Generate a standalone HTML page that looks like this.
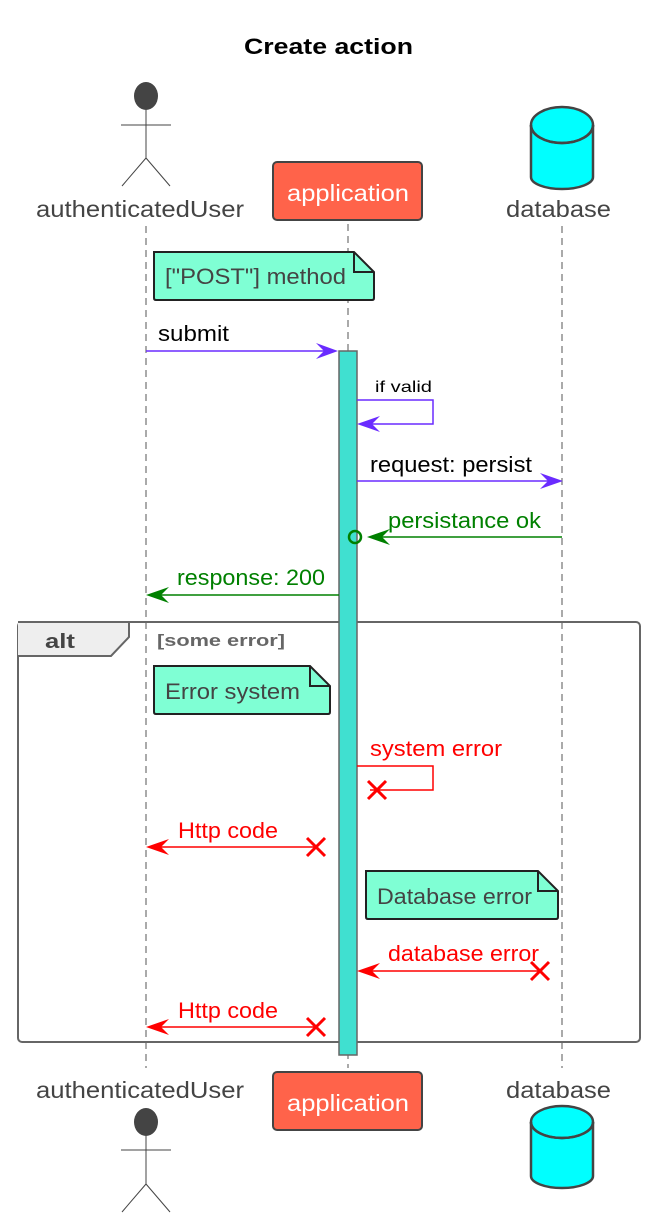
<!DOCTYPE html>
<html><head><meta charset="utf-8"><style>
html,body{margin:0;padding:0;background:#fff}
svg{display:block}
text{font-family:"Liberation Sans",sans-serif}
</style></head><body>
<svg width="650" height="1222" viewBox="0 0 650 1222" xmlns="http://www.w3.org/2000/svg">
<text x="244" y="54" font-size="22" font-weight="bold" fill="#000" textLength="169" lengthAdjust="spacingAndGlyphs">Create action</text>

<g stroke="#555" stroke-width="1" stroke-dasharray="7,5">
<line x1="146" y1="226" x2="146" y2="1068"/>
<line x1="348" y1="224" x2="348" y2="1068"/>
<line x1="562" y1="226" x2="562" y2="1068"/>
</g>

<ellipse cx="146" cy="96" rx="12" ry="14" fill="#444"/>
<g stroke="#444" stroke-width="1" fill="none">
<line x1="146" y1="110" x2="146" y2="158"/>
<line x1="121" y1="125" x2="171" y2="125"/>
<line x1="146" y1="158" x2="122" y2="186"/>
<line x1="146" y1="158" x2="170" y2="186"/>
</g>
<text x="36" y="217" font-size="23" fill="#444" textLength="208" lengthAdjust="spacingAndGlyphs">authenticatedUser</text>
<rect x="273" y="162" width="149" height="58" rx="4" fill="#FF634A" stroke="#444" stroke-width="2"/>
<text x="287" y="201" font-size="23" fill="#fff" textLength="122" lengthAdjust="spacingAndGlyphs">application</text>
<path d="M531,125 L531,177 A31,12 0 0 0 593,177 L593,125" fill="#0ff" stroke="#444" stroke-width="2.5"/>
<ellipse cx="562" cy="125" rx="31" ry="18" fill="#0ff" stroke="#444" stroke-width="2.5"/>
<path d="M531,125 A31,18 0 0 0 593,125" fill="none" stroke="#444" stroke-width="2.5"/>
<text x="506" y="217" font-size="23" fill="#444" textLength="105" lengthAdjust="spacingAndGlyphs">database</text>

<path d="M154,252 L354,252 L374,272 L374,298 Q374,300 372,300 L156,300 Q154,300 154,298 Z" fill="#7FFFD4" stroke="#222" stroke-width="2"/>
<path d="M354,252 L354,272 L374,272" fill="none" stroke="#222" stroke-width="2"/>
<text x="165" y="284" font-size="22" fill="#444" textLength="181" lengthAdjust="spacingAndGlyphs">["POST"] method</text>

<rect x="18" y="622" width="622" height="420" rx="4" fill="none" stroke="#666" stroke-width="2"/>
<path d="M18,622 L129,622 L129,637 L111,656 L18,656" fill="#eee" stroke="#666" stroke-width="2"/>
<text x="45" y="648" font-size="20" font-weight="bold" fill="#444" textLength="30" lengthAdjust="spacingAndGlyphs">alt</text>
<text x="157" y="646" font-size="17" font-weight="bold" fill="#666" textLength="128" lengthAdjust="spacingAndGlyphs">[some error]</text>

<rect x="339" y="351" width="18" height="704" fill="#40E0D0" stroke="#666" stroke-width="1.5"/>

<text x="158" y="341" font-size="22" fill="#000" textLength="71" lengthAdjust="spacingAndGlyphs">submit</text>
<line x1="146" y1="351" x2="330" y2="351" stroke="#6A2BFF" stroke-width="1.5"/>
<polygon points="338,351 316,343 324,351 316,359" fill="#6A2BFF"/>

<text x="375" y="392" font-size="16" fill="#000" textLength="57" lengthAdjust="spacingAndGlyphs">if valid</text>
<polyline points="357,400 433,400 433,424 364,424" fill="none" stroke="#6A2BFF" stroke-width="1.5"/>
<polygon points="357,424 380,416 372,424 380,432" fill="#6A2BFF"/>

<text x="370" y="472" font-size="22" fill="#000" textLength="162" lengthAdjust="spacingAndGlyphs">request: persist</text>
<line x1="357" y1="481" x2="555" y2="481" stroke="#6A2BFF" stroke-width="1.5"/>
<polygon points="563,481 540,473 548,481 540,489" fill="#6A2BFF"/>

<text x="388" y="528" font-size="22" fill="#008000" textLength="153" lengthAdjust="spacingAndGlyphs">persistance ok</text>
<line x1="372" y1="537" x2="562" y2="537" stroke="#008000" stroke-width="1.5"/>
<polygon points="367,537 390,529 382,537 390,545" fill="#008000"/>
<circle cx="355" cy="537" r="6" fill="none" stroke="#008000" stroke-width="2.5"/>

<text x="177" y="585" font-size="22" fill="#008000" textLength="148" lengthAdjust="spacingAndGlyphs">response: 200</text>
<line x1="152" y1="595" x2="339" y2="595" stroke="#008000" stroke-width="1.5"/>
<polygon points="146,595 169,587 161,595 169,603" fill="#008000"/>

<path d="M154,666 L310,666 L330,686 L330,712 Q330,714 328,714 L156,714 Q154,714 154,712 Z" fill="#7FFFD4" stroke="#222" stroke-width="2"/>
<path d="M310,666 L310,686 L330,686" fill="none" stroke="#222" stroke-width="2"/>
<text x="165" y="699" font-size="22" fill="#444" textLength="135" lengthAdjust="spacingAndGlyphs">Error system</text>

<text x="370" y="756" font-size="22" fill="#f00" textLength="132" lengthAdjust="spacingAndGlyphs">system error</text>
<polyline points="357,766 433,766 433,790 370,790" fill="none" stroke="#f00" stroke-width="1.5"/>
<g stroke="#f00" stroke-width="3"><line x1="368" y1="781" x2="386" y2="799"/><line x1="386" y1="781" x2="368" y2="799"/></g>

<text x="178" y="838" font-size="22" fill="#f00" textLength="100" lengthAdjust="spacingAndGlyphs">Http code</text>
<line x1="150" y1="847" x2="318" y2="847" stroke="#f00" stroke-width="1.5"/>
<polygon points="146,847 169,839 161,847 169,855" fill="#f00"/>
<g stroke="#f00" stroke-width="3"><line x1="307" y1="838" x2="325" y2="856"/><line x1="325" y1="838" x2="307" y2="856"/></g>

<path d="M366,871 L538,871 L558,891 L558,917 Q558,919 556,919 L368,919 Q366,919 366,917 Z" fill="#7FFFD4" stroke="#222" stroke-width="2"/>
<path d="M538,871 L538,891 L558,891" fill="none" stroke="#222" stroke-width="2"/>
<text x="377" y="904" font-size="22" fill="#444" textLength="155" lengthAdjust="spacingAndGlyphs">Database error</text>

<text x="388" y="961" font-size="22" fill="#f00" textLength="151" lengthAdjust="spacingAndGlyphs">database error</text>
<line x1="361" y1="971" x2="540" y2="971" stroke="#f00" stroke-width="1.5"/>
<polygon points="357,971 380,963 372,971 380,979" fill="#f00"/>
<g stroke="#f00" stroke-width="3"><line x1="531" y1="962" x2="549" y2="980"/><line x1="549" y1="962" x2="531" y2="980"/></g>

<text x="178" y="1018" font-size="22" fill="#f00" textLength="100" lengthAdjust="spacingAndGlyphs">Http code</text>
<line x1="150" y1="1027" x2="318" y2="1027" stroke="#f00" stroke-width="1.5"/>
<polygon points="146,1027 169,1019 161,1027 169,1035" fill="#f00"/>
<g stroke="#f00" stroke-width="3"><line x1="307" y1="1018" x2="325" y2="1036"/><line x1="325" y1="1018" x2="307" y2="1036"/></g>

<text x="36" y="1098" font-size="23" fill="#444" textLength="208" lengthAdjust="spacingAndGlyphs">authenticatedUser</text>
<ellipse cx="146" cy="1122" rx="12" ry="14" fill="#444"/>
<g stroke="#444" stroke-width="1" fill="none">
<line x1="146" y1="1136" x2="146" y2="1184"/>
<line x1="121" y1="1150" x2="171" y2="1150"/>
<line x1="146" y1="1184" x2="122" y2="1212"/>
<line x1="146" y1="1184" x2="170" y2="1212"/>
</g>
<rect x="273" y="1072" width="149" height="58" rx="4" fill="#FF634A" stroke="#444" stroke-width="2"/>
<text x="287" y="1111" font-size="23" fill="#fff" textLength="122" lengthAdjust="spacingAndGlyphs">application</text>
<text x="506" y="1098" font-size="23" fill="#444" textLength="105" lengthAdjust="spacingAndGlyphs">database</text>
<path d="M531,1122 L531,1176 A31,12 0 0 0 593,1176 L593,1122" fill="#0ff" stroke="#444" stroke-width="2.5"/>
<ellipse cx="562" cy="1122" rx="31" ry="16" fill="#0ff" stroke="#444" stroke-width="2.5"/>
<path d="M531,1122 A31,16 0 0 0 593,1122" fill="none" stroke="#444" stroke-width="2.5"/>
</svg>
</body></html>
